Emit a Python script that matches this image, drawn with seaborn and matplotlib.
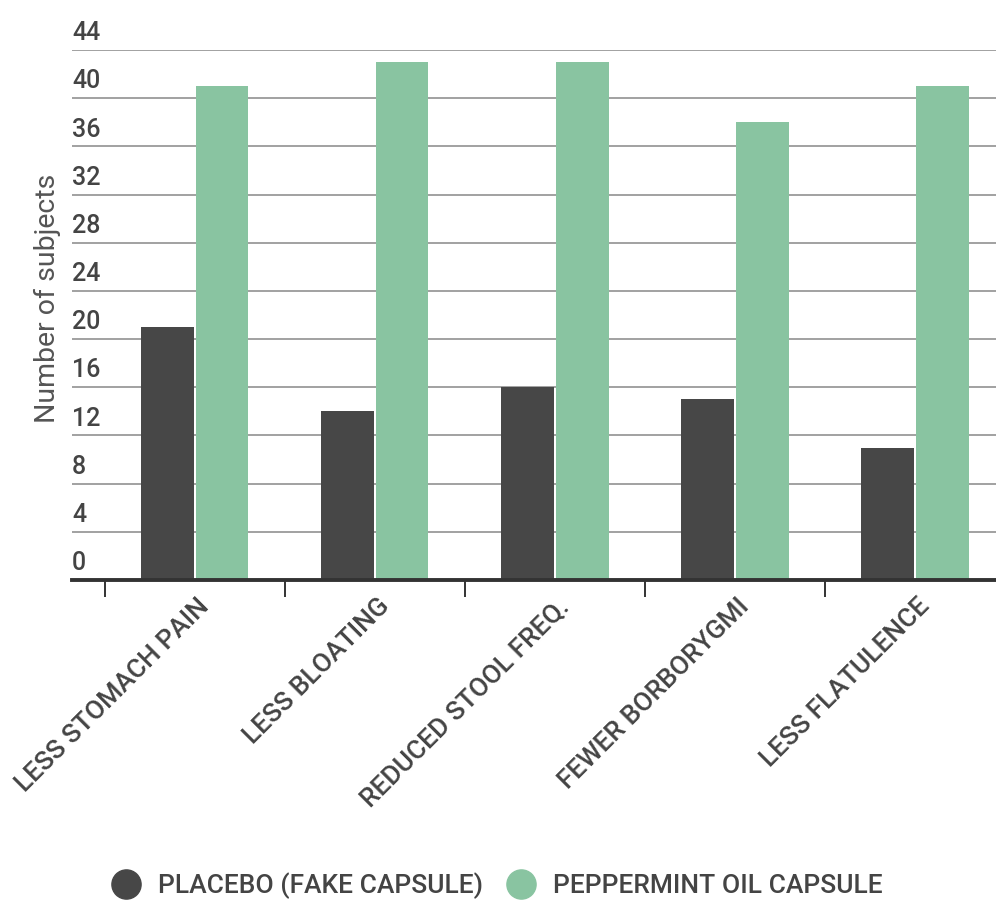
import matplotlib
matplotlib.use("Agg")
import matplotlib.pyplot as plt
from matplotlib.lines import Line2D
from matplotlib.transforms import ScaledTranslation, blended_transform_factory
import pandas as pd
import seaborn as sns

# Data
symptoms = ["LESS STOMACH PAIN", "LESS BLOATING", "REDUCED STOOL FREQ.",
            "FEWER BORBORYGMI", "LESS FLATULENCE"]
placebo = [21, 14, 16, 15, 11]
peppermint = [41, 43, 43, 38, 41]
groups = ["PLACEBO (FAKE CAPSULE)", "PEPPERMINT OIL CAPSULE"]
y_ticks = [0, 4, 8, 12, 16, 20, 24, 28, 32, 36, 40, 44]
y_label = "Number of subjects"

colors = {"PLACEBO (FAKE CAPSULE)": "#474747", "PEPPERMINT OIL CAPSULE": "#89C4A1"}

df = pd.DataFrame({
    "symptom": symptoms * 2,
    "group": [groups[0]] * len(symptoms) + [groups[1]] * len(symptoms),
    "count": placebo + peppermint,
})

sns.set_theme(style="white")
plt.rcParams["font.family"] = ["Roboto", "DejaVu Sans"]

W, H = 996, 905
fig = plt.figure(figsize=(W / 100, H / 100), dpi=100)
ax = fig.add_axes([72 / W, 1 - 580 / H, 1 - 72 / W, (580 - 50) / H])

sns.barplot(data=df, x="symptom", y="count", hue="group", order=symptoms,
            hue_order=groups, palette=colors, width=0.61, gap=0.05,
            saturation=1, legend=False, ax=ax, linewidth=0)

ax.set_xlim(-0.683, 4.45)
ax.set_ylim(0, 44)

# horizontal grid
for v in y_ticks[1:]:
    ax.axhline(v, color="#9a9a9a", lw=1.3, zorder=0)

for s in ["top", "right", "left"]:
    ax.spines[s].set_visible(False)
ax.spines["bottom"].set_color("#333333")
ax.spines["bottom"].set_linewidth(2.8)
ax.spines["bottom"].set_zorder(5)

# y tick labels sit above their grid lines
ax.set_yticks([])
trans = blended_transform_factory(ax.transAxes, ax.transData)
for v in y_ticks:
    ax.text(0.0, v + 0.4, str(v), transform=trans, ha="left", va="bottom",
            fontsize=18, fontweight="medium", color="#444444")

ax.set_ylabel("")
ax.text(-0.027, 0.532, y_label, transform=ax.transAxes, rotation=90,
        ha="center", va="center", fontsize=20.5, color="#555555")

# x axis: ticks between categories, labels rotated
ax.set_xlabel("")
ax.set_xticks(range(len(symptoms)))
ax.set_xticklabels(symptoms, rotation=45, ha="right", rotation_mode="anchor",
                   fontsize=19, fontweight="medium", color="#444444")
ax.set_xticks([i - 0.5 for i in range(len(symptoms))], minor=True)
ax.tick_params(axis="x", which="major", length=0, pad=10)
ax.tick_params(axis="x", which="minor", bottom=True, length=12, width=1.4,
               color="#333333", direction="out")
offset = ScaledTranslation(2 / 100, 0, fig.dpi_scale_trans)
for lab in ax.get_xticklabels():
    lab.set_transform(lab.get_transform() + offset)

handles = [Line2D([0], [0], marker="o", linestyle="", markersize=21,
                  markerfacecolor=colors[g], markeredgecolor=colors[g])
           for g in groups]
fig.legend(handles, groups, loc="center",
           bbox_to_anchor=(0.5 - 7 / W, 1 - 886 / H),
           ncol=2, frameon=False, handletextpad=0.2, columnspacing=0.45,
           labelcolor="#444444", prop={"size": 19, "weight": "medium"})

fig.savefig("out.png", dpi=100)
